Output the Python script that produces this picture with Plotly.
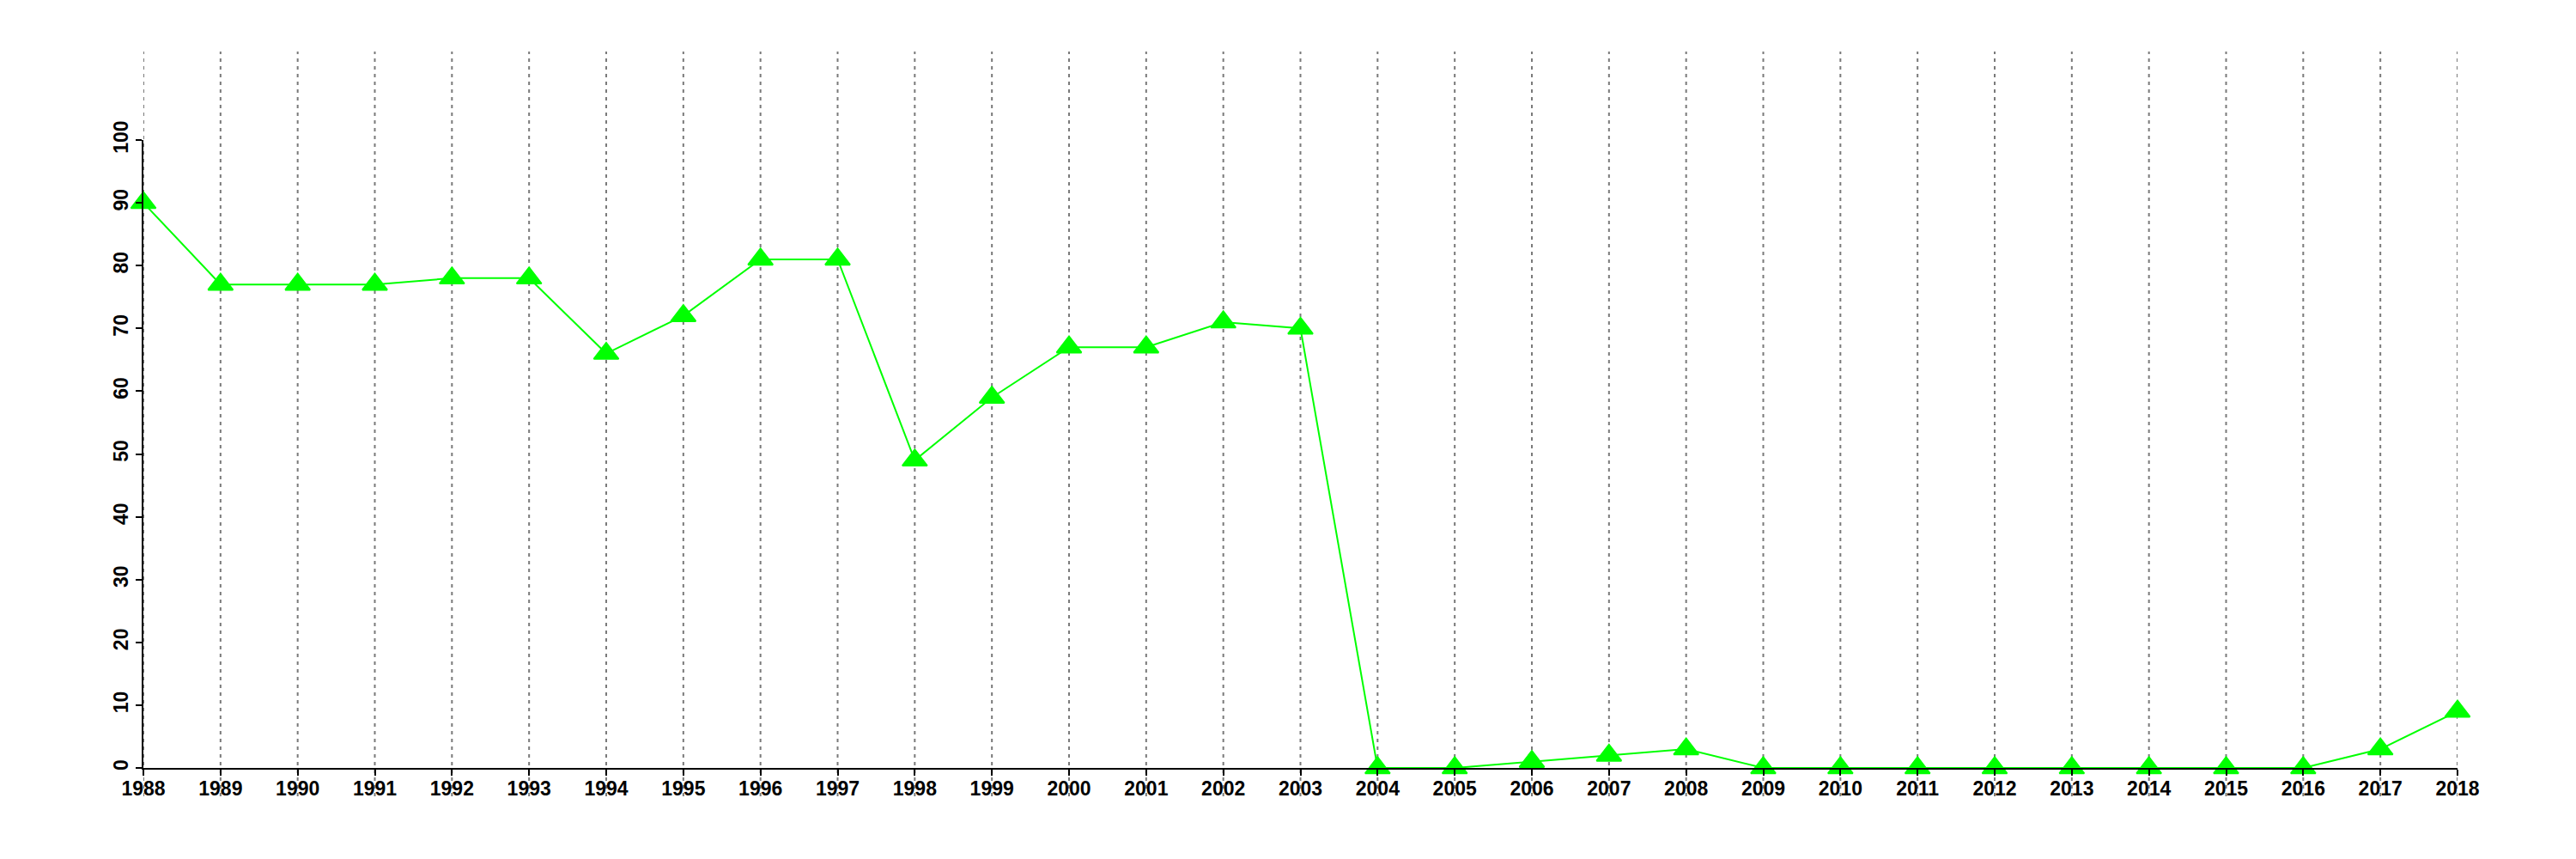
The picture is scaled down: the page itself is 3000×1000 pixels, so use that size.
import plotly.graph_objects as go

years = list(range(1988, 2019))
values = [90, 77, 77, 77, 78, 78, 66, 72, 81, 81, 49, 59, 67, 67, 71, 70,
          0, 0, 1, 2, 3, 0, 0, 0, 0, 0, 0, 0, 0, 3, 9]
y_ticks = list(range(0, 101, 10))

GREEN = "#00ff00"
font = dict(family="Liberation Sans, Arial, sans-serif", size=23, color="black", weight="bold")

fig = go.Figure()

fig.add_trace(go.Scatter(
    x=years, y=values, mode="lines+markers",
    line=dict(color=GREEN, width=2),
    marker=dict(symbol="triangle-up", size=25, color=GREEN,
                line=dict(color=GREEN, width=2)),
    cliponaxis=False, showlegend=False,
))

for yr in years:
    fig.add_shape(type="line", xref="x", yref="paper", x0=yr, x1=yr,
                  y0=-0.045, y1=1.141, layer="below",
                  line=dict(color="#7a7a7a", width=2, dash="4px,5px"))

fig.update_layout(
    width=2992, height=992,
    margin=dict(l=159, r=138, t=155, b=106, autoexpand=False),
    paper_bgcolor="white", plot_bgcolor="white",
    font=font,
    xaxis=dict(range=[1988, 2018], tickmode="array", tickvals=years,
               ticktext=[str(y) for y in years],
               showgrid=False, zeroline=False, showline=True,
               linecolor="black", linewidth=2, ticks="outside",
               ticklen=7, tickwidth=2, tickcolor="black",
               ticklabelstandoff=-5,
               tickfont=font, automargin=False),
    yaxis=dict(range=[0, 100], tickmode="array", tickvals=y_ticks,
               showgrid=False, zeroline=False, showline=True,
               linecolor="black", linewidth=2, ticks="outside",
               ticklen=7, tickwidth=2, tickcolor="black",
               tickangle=-90, tickfont=font, automargin=False),
)

fig.write_html("out.html")
